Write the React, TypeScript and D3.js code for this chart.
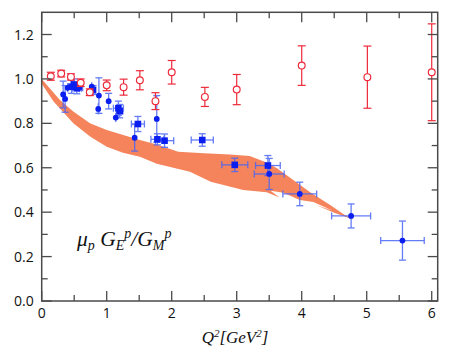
import React from "react";
import * as d3 from "d3";

// ---- data ----
const redX = [0.14, 0.3, 0.45, 0.6, 0.74, 1.0, 1.26, 1.51, 1.75, 2.0, 2.51, 3.0, 4.0, 5.01, 6.0];
const redY = [1.012, 1.024, 1.009, 0.983, 0.94, 0.971, 0.963, 0.994, 0.9, 1.03, 0.919, 0.952, 1.06, 1.008, 1.03];
const redErr = [0.018, 0.015, 0.014, 0.017, 0.015, 0.024, 0.036, 0.043, 0.038, 0.053, 0.043, 0.068, 0.089, 0.14, 0.218];

const circX = [0.33, 0.36, 0.4, 0.58, 0.77, 0.88, 0.87, 1.03, 1.14, 1.43, 1.77, 3.5, 3.97, 4.76, 5.55];
const circY = [0.93, 0.91, 0.96, 0.96, 0.965, 0.925, 0.865, 0.9, 0.826, 0.735, 0.82, 0.572, 0.482, 0.383, 0.272];
const circYErr = [0.06, 0.06, 0.02, 0.02, 0.02, 0.08, 0.025, 0.035, 0.02, 0.06, 0.105, 0.07, 0.053, 0.054, 0.088];
const circXErr = [0, 0, 0, 0.05, 0, 0, 0, 0, 0, 0, 0, 0.23, 0.26, 0.3, 0.335];

const sqX = [0.46, 0.5, 0.54, 0.79, 1.18, 1.2, 1.48, 1.78, 1.89, 2.47, 2.97, 3.48];
const sqY = [0.965, 0.975, 0.958, 0.95, 0.868, 0.855, 0.797, 0.728, 0.722, 0.725, 0.613, 0.61];
const sqYErr = [0.03, 0.025, 0.025, 0.02, 0.032, 0.03, 0.034, 0.025, 0.03, 0.028, 0.03, 0.045];
const sqXErr = [0.06, 0.05, 0.07, 0.03, 0.077, 0.05, 0.1, 0.1, 0.14, 0.17, 0.2, 0.19];

const bandUpper: [number, number][] = [
  [0, 1.0], [0.28, 0.905], [0.486, 0.853], [0.743, 0.8], [1.0, 0.77], [1.255, 0.748],
  [1.51, 0.725], [1.77, 0.705], [2.1, 0.672], [2.5, 0.665], [2.9, 0.66], [3.2, 0.653], [3.45, 0.625],
  [3.62, 0.598], [3.87, 0.545], [4.13, 0.49], [4.45, 0.43], [4.65, 0.39], [4.78, 0.37],
];
const bandLower: [number, number][] = [
  [0, 0.978], [0.18, 0.9], [0.486, 0.8], [0.75, 0.74], [1.0, 0.695], [1.25, 0.668],
  [1.51, 0.65], [1.77, 0.618], [2.28, 0.582], [2.6, 0.537], [3.1, 0.5], [3.46, 0.49], [3.66, 0.466],
  [3.52, 0.497], [3.72, 0.487], [3.97, 0.455], [4.18, 0.446], [4.47, 0.408], [4.22, 0.432],
  [4.5, 0.397], [4.78, 0.368],
];

const xTicks = [0, 1, 2, 3, 4, 5, 6];
const xMinor = [0.5, 1.5, 2.5, 3.5, 4.5, 5.5];
const yTicks = [0, 0.2, 0.4, 0.6, 0.8, 1.0, 1.2];
const yMinor = [0.1, 0.3, 0.5, 0.7, 0.9, 1.1];

const W = 455, H = 352;
const L = 41.7, R = 437.7, T = 12.3, B = 301;

export default function App() {
  const x = d3.scaleLinear().domain([0, 6.092]).range([L, R]);
  const y = d3.scaleLinear().domain([0, 1.3]).range([B, T]);
  const bandPts = [...bandUpper, ...bandLower.slice().reverse()];
  const bandPath = d3.line<[number, number]>().x(d => x(d[0])).y(d => y(d[1]))(bandPts) + "Z";

  const red = "#ee2a3a";
  const blue = "#0a1ef0";
  const blueBar = "#4a66f5";
  const axisCol = "#4a4a4a";
  const tickFont = "'Open Sans', sans-serif";

  return (
    <svg width={W} height={H} style={{ position: "absolute", left: 0, top: 0, background: "#fff" }}>
      <path d={bandPath} fill="#f5845c" />

      {/* blue error bars */}
      <g stroke={blueBar} strokeWidth={1.3} fill="none" opacity={0.85}>
        {circX.map((cx, i) => (
          <g key={"ce" + i}>
            <line x1={x(cx)} x2={x(cx)} y1={y(circY[i] - circYErr[i])} y2={y(circY[i] + circYErr[i])} />
            {circYErr[i] > 0.03 && (
              <>
                <line x1={x(cx) - 3.5} x2={x(cx) + 3.5} y1={y(circY[i] - circYErr[i])} y2={y(circY[i] - circYErr[i])} />
                <line x1={x(cx) - 3.5} x2={x(cx) + 3.5} y1={y(circY[i] + circYErr[i])} y2={y(circY[i] + circYErr[i])} />
              </>
            )}
            {circXErr[i] > 0 && (
              <>
                <line x1={x(cx - circXErr[i])} x2={x(cx + circXErr[i])} y1={y(circY[i])} y2={y(circY[i])} />
                <line x1={x(cx - circXErr[i])} x2={x(cx - circXErr[i])} y1={y(circY[i]) - 3.5} y2={y(circY[i]) + 3.5} />
                <line x1={x(cx + circXErr[i])} x2={x(cx + circXErr[i])} y1={y(circY[i]) - 3.5} y2={y(circY[i]) + 3.5} />
              </>
            )}
          </g>
        ))}
        {sqX.map((sx, i) => (
          <g key={"se" + i}>
            <line x1={x(sx)} x2={x(sx)} y1={y(sqY[i] - sqYErr[i])} y2={y(sqY[i] + sqYErr[i])} />
            <line x1={x(sx) - 3.5} x2={x(sx) + 3.5} y1={y(sqY[i] - sqYErr[i])} y2={y(sqY[i] - sqYErr[i])} />
            <line x1={x(sx) - 3.5} x2={x(sx) + 3.5} y1={y(sqY[i] + sqYErr[i])} y2={y(sqY[i] + sqYErr[i])} />
            <line x1={x(sx - sqXErr[i])} x2={x(sx + sqXErr[i])} y1={y(sqY[i])} y2={y(sqY[i])} />
            <line x1={x(sx - sqXErr[i])} x2={x(sx - sqXErr[i])} y1={y(sqY[i]) - 3.5} y2={y(sqY[i]) + 3.5} />
            <line x1={x(sx + sqXErr[i])} x2={x(sx + sqXErr[i])} y1={y(sqY[i]) - 3.5} y2={y(sqY[i]) + 3.5} />
          </g>
        ))}
      </g>
      {circX.map((cx, i) => (
        <circle key={"c" + i} cx={x(cx)} cy={y(circY[i])} r={2.9} fill={blue} />
      ))}
      {sqX.map((sx, i) => (
        <rect key={"s" + i} x={x(sx) - 3.3} y={y(sqY[i]) - 3.3} width={6.6} height={6.6} fill={blue} />
      ))}

      {/* red */}
      <g stroke={red} strokeWidth={1.2} fill="none">
        {redX.map((rx, i) => (
          <g key={"r" + i}>
            <line x1={x(rx)} x2={x(rx)} y1={y(redY[i] - redErr[i])} y2={y(redY[i] + redErr[i])} />
            <line x1={x(rx) - 4} x2={x(rx) + 4} y1={y(redY[i] - redErr[i])} y2={y(redY[i] - redErr[i])} />
            <line x1={x(rx) - 4} x2={x(rx) + 4} y1={y(redY[i] + redErr[i])} y2={y(redY[i] + redErr[i])} />
            <circle cx={x(rx)} cy={y(redY[i])} r={3.4} fill="#fff" />
          </g>
        ))}
      </g>

      {/* frame */}
      <rect x={L} y={T} width={R - L} height={B - T} fill="none" stroke={axisCol} strokeWidth={1.5} />
      <g stroke={axisCol} strokeWidth={1.3}>
        {xTicks.map(t => (
          <g key={"xt" + t}>
            <line x1={x(t)} x2={x(t)} y1={B} y2={B - 10} />
            <line x1={x(t)} x2={x(t)} y1={T} y2={T + 10} />
          </g>
        ))}
        {xMinor.map(t => (
          <g key={"xm" + t}>
            <line x1={x(t)} x2={x(t)} y1={B} y2={B - 6} />
            <line x1={x(t)} x2={x(t)} y1={T} y2={T + 6} />
          </g>
        ))}
        {yTicks.map(t => (
          <g key={"yt" + t}>
            <line x1={L} x2={L + 10} y1={y(t)} y2={y(t)} />
            <line x1={R} x2={R - 10} y1={y(t)} y2={y(t)} />
          </g>
        ))}
        {yMinor.map(t => (
          <g key={"ym" + t}>
            <line x1={L} x2={L + 6} y1={y(t)} y2={y(t)} />
            <line x1={R} x2={R - 6} y1={y(t)} y2={y(t)} />
          </g>
        ))}
      </g>
      <g fontFamily={tickFont} fontSize={14} fill="#111">
        {xTicks.map(t => (
          <text key={"xl" + t} x={x(t)} y={B + 17} textAnchor="middle">{t}</text>
        ))}
        {yTicks.map(t => (
          <text key={"yl" + t} x={L - 8} y={y(t) + 5} textAnchor="end">{t.toFixed(1)}</text>
        ))}
      </g>

      <text x={235} y={343} textAnchor="middle" fontFamily="'Liberation Serif', serif" fontStyle="italic" fontSize={17} fill="#111">
        Q<tspan dy={-6} fontSize={11}>2</tspan><tspan dy={6}>[GeV</tspan><tspan dy={-6} fontSize={11}>2</tspan><tspan dy={6}>]</tspan>
      </text>

      <text x={77} y={246} fontFamily="'Liberation Serif', serif" fontStyle="italic" fontSize={21.5} fill="#111">
        μ<tspan dy={4} fontSize={14}>p</tspan><tspan dy={-4}> G</tspan><tspan dy={4} fontSize={14}>E</tspan><tspan dy={-12} fontSize={14}>p</tspan><tspan dy={8}>/G</tspan><tspan dy={4} fontSize={14}>M</tspan><tspan dy={-12} fontSize={14}>p</tspan>
      </text>
    </svg>
  );
}
